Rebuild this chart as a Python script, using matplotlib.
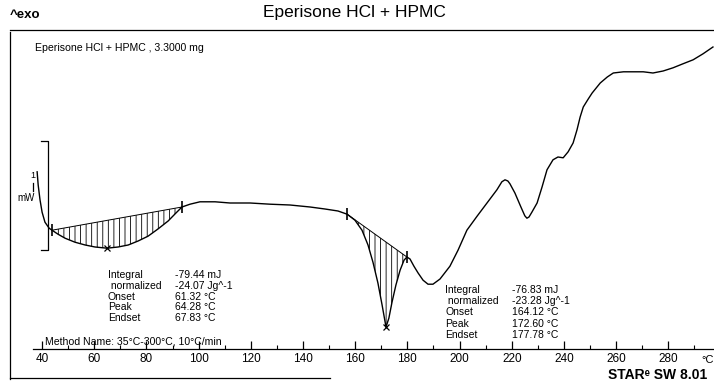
import numpy as np
import matplotlib
matplotlib.use("Agg")
import matplotlib.pyplot as plt
from matplotlib.lines import Line2D

plt.rcParams['font.family'] = ['Liberation Sans', 'DejaVu Sans']
plt.rcParams['hatch.linewidth'] = 0.6

# DSC curve: temperature [°C] and heat flow [mW] (exo up)
temp = [38.1, 38.5, 39.2, 40.0, 41.1, 42.7, 43.8, 46.1, 48.8, 52.6, 56.5, 60.3,
        64.9, 69.1, 73.0, 76.8, 80.6, 84.4, 88.3, 91.3, 93.6, 96.7, 100.5, 106.3,
        112.0, 119.7, 127.4, 135.0, 142.7, 148.4, 153.4, 156.9, 159.9, 162.6,
        164.9, 166.8, 168.7, 170.3, 171.8, 172.9, 174.1, 175.6, 177.2, 178.7,
        179.8, 181.0, 182.5, 184.1, 186.0, 187.9, 189.8, 192.5, 196.3, 199.4,
        202.8, 206.7, 210.5, 214.3, 216.2, 217.4, 218.5, 219.3, 221.2, 223.5,
        225.0, 225.8, 226.6, 227.7, 229.7, 231.6, 233.5, 235.8, 237.7, 239.7,
        241.6, 243.5, 245.0, 246.2, 247.4, 249.3, 250.8, 253.9, 256.6, 258.9,
        262.8, 266.6, 270.4, 274.1, 278.0, 281.8, 285.6, 289.5, 293.3, 297.1]
heat_flow = [0.78, 0.45, 0.08, -0.23, -0.48, -0.63, -0.68, -0.78, -0.88, -0.98,
             -1.05, -1.10, -1.13, -1.10, -1.05, -0.95, -0.83, -0.65, -0.45, -0.25,
             -0.10, -0.03, 0.03, 0.03, 0.00, 0.00, -0.03, -0.05, -0.10, -0.15,
             -0.20, -0.28, -0.43, -0.68, -1.05, -1.48, -2.00, -2.55, -3.10, -2.88,
             -2.48, -2.05, -1.68, -1.43, -1.35, -1.40, -1.58, -1.75, -1.93, -2.03,
             -2.03, -1.90, -1.58, -1.18, -0.68, -0.33, 0.00, 0.33, 0.53, 0.58,
             0.55, 0.48, 0.25, -0.10, -0.32, -0.38, -0.35, -0.23, 0.00, 0.40,
             0.83, 1.08, 1.15, 1.13, 1.28, 1.50, 1.83, 2.15, 2.40, 2.60,
             2.75, 3.00, 3.15, 3.25, 3.28, 3.28, 3.28, 3.25, 3.30, 3.38,
             3.48, 3.58, 3.73, 3.90]

# integration limits and peaks
integrals = [(43.8, 93.6), (156.9, 179.8)]
peaks_t = [64.9, 171.8]
peaks_hf = [-1.13, -3.10]

labels = ["Integral", " normalized", "Onset", "Peak", "Endset"]
vals1 = ["-79.44 mJ", "-24.07 Jg^-1", "61.32 °C", "64.28 °C", "67.83 °C"]
vals2 = ["-76.83 mJ", "-23.28 Jg^-1", "164.12 °C", "172.60 °C", "177.78 °C"]

T = np.array(temp)
HF = np.array(heat_flow)

fig = plt.figure(figsize=(7.14, 3.81), dpi=100)
W, H = 714, 381
ax = fig.add_axes([10 / W, 1 - 349 / H, 704 / W, 319 / H])
ax.set_xlim(27.7, 297.5)
ax.set_ylim(-3.65, 4.325)

ax.plot(T, HF, color='k', lw=1.0, solid_joinstyle='round')

for t0, t1 in integrals:
    i0 = int(np.argmin(abs(T - t0)))
    i1 = int(np.argmin(abs(T - t1)))
    tt = T[i0:i1 + 1]
    base = np.interp(tt, [T[i0], T[i1]], [HF[i0], HF[i1]])
    ax.fill_between(tt, HF[i0:i1 + 1], base, facecolor='none', edgecolor='k',
                    hatch='|||', linewidth=0)
    ax.plot([T[i0], T[i1]], [HF[i0], HF[i1]], color='k', lw=0.7)
    ax.plot([T[i0], T[i1]], [HF[i0], HF[i1]], ls='none', marker='|', ms=9,
            mew=1.2, color='k')
ax.plot(peaks_t, peaks_hf, ls='none', marker='x', ms=5, mew=0.9, color='k')

# bracket on the left
ax.plot([39.6, 42.1, 42.1, 39.6], [1.55, 1.55, -1.18, -1.18], color='k', lw=0.9)

# axes styling
for s in ['left', 'right']:
    ax.spines[s].set_visible(False)
ax.spines['top'].set_linewidth(0.9)
ax.spines['bottom'].set_linewidth(0.9)
ax.spines['bottom'].set_bounds(36.6, 297.5)
ax.set_yticks([])
ax.set_xticks(np.arange(40, 281, 20))
ax.set_xticks(np.arange(50, 291, 20), minor=True)
ax.tick_params(axis='x', which='major', direction='in', length=6, width=0.9,
               labelsize=8.5, pad=3)
ax.tick_params(axis='x', which='minor', direction='in', length=3, width=0.8)

# frame lines outside the axes
fig.add_artist(Line2D([10 / W, 10 / W], [1 - 32 / H, 1 - 379 / H], color='k', lw=0.9))
fig.add_artist(Line2D([10 / W, 330 / W], [1 - 378 / H, 1 - 378 / H], color='k', lw=0.9))

# texts
def ftext(x, y, s, **kw):
    fig.text(x / W, 1 - y / H, s, **kw)

ftext(10, 15, "^exo", fontsize=9.5, fontweight='bold', va='center')
ftext(354, 12, "Eperisone HCl + HPMC", fontsize=12.5, ha='center', va='center')
ftext(35, 48, "Eperisone HCl + HPMC , 3.3000 mg", fontsize=7.6, va='center')
ftext(30, 176, "1", fontsize=6.5, va='center')
ftext(17, 198, "mW", fontsize=7, va='center')
fig.add_artist(Line2D([33 / W, 33 / W], [1 - 183 / H, 1 - 191 / H], color='k', lw=0.9))

for k in range(5):
    ftext(108, 275 + k * 10.8, labels[k], fontsize=7.5, va='center')
    ftext(175, 275 + k * 10.8, vals1[k], fontsize=7.5, va='center')
    ftext(445, 290 + k * 11.2, labels[k], fontsize=7.5, va='center')
    ftext(512, 290 + k * 11.2, vals2[k], fontsize=7.5, va='center')

ftext(45, 341, "Method Name: 35°C-300°C, 10°C/min", fontsize=7.6, va='center')
ftext(701, 360, "°C", fontsize=8, va='center')
ftext(608, 375, "STARᵉ SW 8.01", fontsize=10, fontweight='bold', va='center')

fig.savefig("out.png", dpi=100)
